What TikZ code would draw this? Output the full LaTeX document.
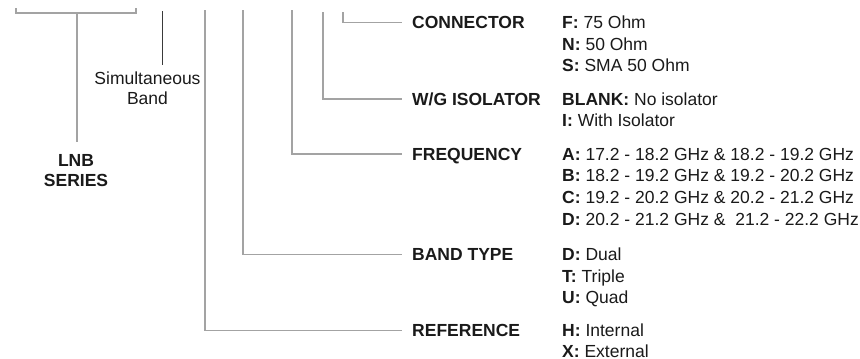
\documentclass[tikz,border=0pt]{standalone}
\usepackage{fontspec}
\setmainfont{Liberation Sans}
\definecolor{txt}{HTML}{1A1A1A}
\definecolor{ln}{HTML}{A3A3A3}
\definecolor{lndark}{HTML}{3A3A3A}
\begin{document}
\begin{tikzpicture}[x=1pt,y=-1pt,
  every node/.style={inner sep=0pt, text=txt, font=\fontsize{17.5}{20}\selectfont},
  lbl/.style={anchor=base west, font=\fontsize{17.5}{20}\selectfont\bfseries, text height=12.5pt, text depth=0pt},
  val/.style={anchor=base west},
  conn/.style={draw=ln, line width=1.5pt},
  thin/.style={draw=lndark, line width=0.9pt}]
\useasboundingbox (0,0) rectangle (860,359);

% top free ends
\coordinate (bl) at (16,8);
\coordinate (br) at (136,8);
\coordinate (bstem) at (77,13);
\coordinate (tsim) at (162,11);
\coordinate (tref) at (205,10);
\coordinate (tband) at (243,10);
\coordinate (tfreq) at (292,10);
\coordinate (tiso) at (323,12);
\coordinate (tcon) at (343,12);

% left labels
\node[font=\fontsize{17.5}{20}\selectfont\bfseries, align=center, anchor=north] (lnb) at (76,154) {LNB\\SERIES};
\node[align=center, anchor=north, inner ysep=0pt] (sim) at (147.5,71.5) {Simultaneous\\Band};

% category labels
\node[lbl] (lcon) at (412,28.5) {CONNECTOR};
\node[lbl] (liso) at (412,105) {W/G ISOLATOR};
\node[lbl] (lfreq) at (412,160) {FREQUENCY};
\node[lbl] (lband) at (412,260.5) {BAND TYPE};
\node[lbl] (lref) at (412,336.5) {REFERENCE};

% values
\node[val] (v1) at (562,28.5) {\textbf{F:} 75 Ohm};
\node[val] (v2) at (562,50) {\textbf{N:} 50 Ohm};
\node[val] (v3) at (562,71.5) {\textbf{S:} SMA 50 Ohm};
\node[val] (v4) at (562,105) {\textbf{BLANK:} No isolator};
\node[val] (v5) at (562,126.5) {\textbf{I:} With Isolator};
\node[val] (v6) at (562,160) {\textbf{A:} 17.2 - 18.2 GHz \& 18.2 - 19.2 GHz};
\node[val] (v7) at (562,181.7) {\textbf{B:} 18.2 - 19.2 GHz \& 19.2 - 20.2 GHz};
\node[val] (v8) at (562,203.4) {\textbf{C:} 19.2 - 20.2 GHz \& 20.2 - 21.2 GHz};
\node[val] (v9) at (562,225.1) {\textbf{D:} 20.2 - 21.2 GHz \&\ \ 21.2 - 22.2 GHz};
\node[val] (v10) at (562,260.5) {\textbf{D:} Dual};
\node[val] (v11) at (562,282.2) {\textbf{T:} Triple};
\node[val] (v12) at (562,303.9) {\textbf{U:} Quad};
\node[val] (v13) at (562,336.5) {\textbf{H:} Internal};
\node[val] (v14) at (562,357.2) {\textbf{X:} External};

% bracket and stems
\draw[conn] (bl) -- (bl |- bstem) -- (br |- bstem) -- (br);
\draw[conn] (bstem) -- ([yshift=12pt]lnb.north -| bstem);
\draw[thin] (tsim) -- ([yshift=7pt]sim.north -| tsim);

% connectors
\draw[conn] (tcon) |- ([xshift=-10pt]lcon.west);
\draw[conn] (tiso) |- ([xshift=-10pt]liso.west);
\draw[conn] (tfreq) |- ([xshift=-10pt]lfreq.west);
\draw[conn] (tband) |- ([xshift=-10pt]lband.west);
\draw[conn] (tref) |- ([xshift=-10pt]lref.west);
\end{tikzpicture}
\end{document}
